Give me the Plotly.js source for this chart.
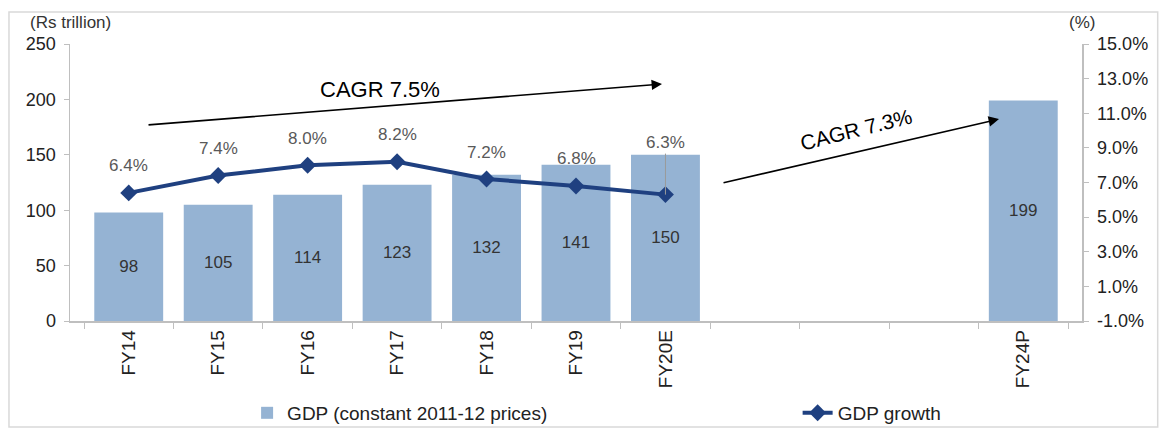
<!DOCTYPE html>
<html>
<head>
<meta charset="utf-8">
<script src="https://cdn.plot.ly/plotly-3.0.1.min.js"></script>
<style>html,body{margin:0;padding:0;background:#fff;}#chart{width:1161px;height:429px;}</style>
</head>
<body>
<div id="chart"></div>
<script>
// ---- data ----
const categories = ['FY14','FY15','FY16','FY17','FY18','FY19','FY20E','FY21','FY22','FY23','FY24P'];
const tickLabels = ['FY14','FY15','FY16','FY17','FY18','FY19','FY20E','','','','FY24P'];
const gdp = [98, 105, 114, 123, 132, 141, 150, null, null, null, 199];
const growth = [6.4, 7.4, 8.0, 8.2, 7.2, 6.8, 6.3, null, null, null, null];
const leftTicks = [0, 50, 100, 150, 200, 250];
const rightTicks = [-1, 1, 3, 5, 7, 9, 11, 13, 15];

const FONT = 'Liberation Sans, Arial, sans-serif';
const barColor = '#95B3D3';
const lineColor = '#1F4080';

const bars = {
  type: 'bar', name: 'GDP (constant 2011-12 prices)',
  x: categories, y: gdp, width: 0.77,
  marker: {color: barColor},
  text: gdp.map(v => v == null ? '' : String(v)),
  textposition: 'inside', insidetextanchor: 'middle',
  textfont: {family: FONT, size: 17, color: '#333333'},
  hoverinfo: 'skip', legend: 'legend', cliponaxis: false
};
const line = {
  type: 'scatter', mode: 'lines+markers', name: 'GDP growth',
  x: categories, y: growth, yaxis: 'y2',
  line: {color: lineColor, width: 4},
  marker: {symbol: 'diamond', size: 13, color: lineColor},
  hoverinfo: 'skip', legend: 'legend2'
};

const annotations = [];
growth.forEach((v, i) => {
  if (v == null) return;
  const leader = (i === 6);
  annotations.push({
    x: categories[i], y: v, xref: 'x', yref: 'y2',
    text: v.toFixed(1) + '%',
    showarrow: leader, arrowhead: 0, arrowcolor: '#9a9a9a', arrowwidth: 1,
    ax: 0, ay: leader ? -52 : 0,
    yshift: leader ? 0 : 27,
    font: {family: FONT, size: 17, color: '#595959'}
  });
});
// axis unit labels
annotations.push({xref: 'paper', yref: 'paper', x: -0.0415, y: 1.079, xanchor: 'left', yanchor: 'middle',
  text: '(Rs trillion)', showarrow: false, font: {family: FONT, size: 17, color: '#333333'}});
annotations.push({xref: 'paper', yref: 'paper', x: 1.015, y: 1.079, xanchor: 'right', yanchor: 'middle',
  text: '(%)', showarrow: false, font: {family: FONT, size: 17, color: '#333333'}});
// CAGR arrows
annotations.push({xref: 'paper', yref: 'paper', x: 0.585, y: 0.8556, ax: -515, ay: 41,
  showarrow: true, arrowhead: 2, arrowsize: 1.3, arrowwidth: 1.6, arrowcolor: '#000', text: ''});
annotations.push({xref: 'paper', yref: 'paper', x: 0.306, y: 0.837, xanchor: 'center', yanchor: 'middle',
  text: 'CAGR 7.5%', showarrow: false, font: {family: FONT, size: 22, color: '#000'}});
annotations.push({xref: 'paper', yref: 'paper', x: 0.918, y: 0.729, ax: -277, ay: 64,
  showarrow: true, arrowhead: 2, arrowsize: 1.3, arrowwidth: 1.6, arrowcolor: '#000', text: ''});
annotations.push({xref: 'paper', yref: 'paper', x: 0.777, y: 0.69, xanchor: 'center', yanchor: 'middle',
  text: 'CAGR 7.3%', showarrow: false, textangle: -14, font: {family: FONT, size: 21, color: '#000'}});

const layout = {
  width: 1161, height: 429,
  margin: {l: 70, r: 79, t: 44, b: 108, autoexpand: false},
  paper_bgcolor: '#ffffff', plot_bgcolor: '#ffffff',
  font: {family: FONT, size: 16, color: '#333333'},
  bargap: 0.23,
  xaxis: {
    type: 'category', categoryorder: 'array', categoryarray: categories,
    tickvals: categories, ticktext: tickLabels, tickangle: -90,
    tickson: 'boundaries', ticks: 'outside', ticklen: 6, tickcolor: '#bfbfbf',
    showline: true, linecolor: '#bfbfbf', linewidth: 1.5, showgrid: false, zeroline: false,
    tickfont: {family: FONT, size: 19, color: '#222'}, fixedrange: true, automargin: false
  },
  yaxis: {
    range: [0, 250], tickvals: leftTicks, ticks: 'outside', ticklen: 5, tickcolor: '#bfbfbf',
    showline: true, linecolor: '#bfbfbf', linewidth: 1.5, showgrid: false, zeroline: false,
    ticklabelstandoff: 4,
    tickfont: {family: FONT, size: 18, color: '#222'}, fixedrange: true, automargin: false
  },
  yaxis2: {
    overlaying: 'y', side: 'right', range: [-1, 15], tickvals: rightTicks,
    ticktext: rightTicks.map(v => v.toFixed(1) + '%'),
    ticks: 'outside', ticklen: 5, tickcolor: '#bfbfbf',
    showline: true, linecolor: '#bfbfbf', linewidth: 1.5, showgrid: false, zeroline: false,
    ticklabelstandoff: 5,
    tickfont: {family: FONT, size: 18, color: '#222'}, fixedrange: true, automargin: false
  },
  legend: {x: 0.175, y: -0.332, xanchor: 'left', yanchor: 'middle', orientation: 'h',
    font: {family: FONT, size: 19, color: '#222'}, bgcolor: 'rgba(0,0,0,0)'},
  legend2: {x: 0.719, y: -0.332, xanchor: 'left', yanchor: 'middle', orientation: 'h',
    font: {family: FONT, size: 19, color: '#222'}, bgcolor: 'rgba(0,0,0,0)'},
  showlegend: true,
  annotations: annotations,
  shapes: [{type: 'rect', xref: 'paper', yref: 'paper', x0: -0.0603, x1: 1.0748, y0: -0.3827, y1: 1.1155,
    line: {color: '#d9d9d9', width: 1.5}, fillcolor: 'rgba(0,0,0,0)', layer: 'below'}]
};

Plotly.newPlot('chart', [bars, line], layout, {displayModeBar: false, staticPlot: true});
</script>
</body>
</html>
